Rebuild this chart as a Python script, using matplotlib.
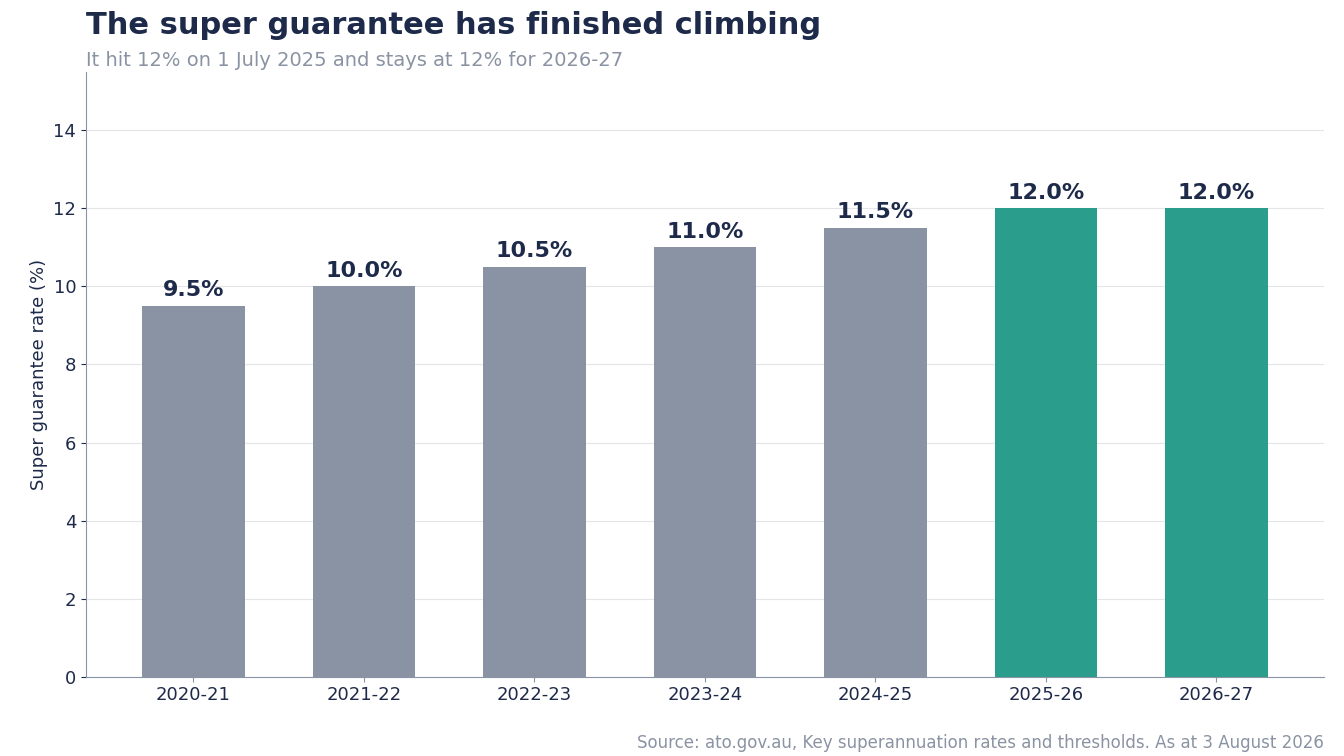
import matplotlib.pyplot as plt

years = ["2020-21", "2021-22", "2022-23", "2023-24", "2024-25", "2025-26", "2026-27"]
rates = [9.5, 10.0, 10.5, 11.0, 11.5, 12.0, 12.0]
bar_colors = ["#8a93a3"] * 5 + ["#2a9d8c"] * 2

navy = "#1e2a4a"
grey = "#8a93a3"

fig, ax = plt.subplots(figsize=(13.44, 7.56), dpi=100)
fig.subplots_adjust(left=0.064, right=0.985, top=0.905, bottom=0.105)

x = range(len(years))
ax.bar(x, rates, width=0.6, color=bar_colors, zorder=2)
for i, r in zip(x, rates):
    ax.text(i, r + 0.15, f"{r:.1f}%", ha="center", va="bottom",
            fontsize=16, fontweight="bold", color=navy)

ax.set_xticks(list(x))
ax.set_xticklabels(years, fontsize=13, color=navy)
ax.tick_params(axis="y", labelsize=13, colors=navy)
ax.tick_params(axis="x", colors=grey, labelcolor=navy)
ax.set_ylim(0, 15.5)
ax.set_yticks(range(0, 15, 2))
ax.set_xlim(-0.63, 6.63)
ax.set_ylabel("Super guarantee rate (%)", fontsize=13, color=navy)
ax.grid(axis="y", color="#e3e5e8", zorder=0)
for s in ["top", "right"]:
    ax.spines[s].set_visible(False)
for s in ["left", "bottom"]:
    ax.spines[s].set_color(grey)

fig.text(0.064, 0.955, "The super guarantee has finished climbing",
         fontsize=22, fontweight="bold", color=navy)
fig.text(0.064, 0.913, "It hit 12% on 1 July 2025 and stays at 12% for 2026-27",
         fontsize=14, color=grey)
fig.text(0.985, 0.01, "Source: ato.gov.au, Key superannuation rates and thresholds. As at 3 August 2026",
         fontsize=12, color=grey, ha="right")

fig.savefig("out.png")
